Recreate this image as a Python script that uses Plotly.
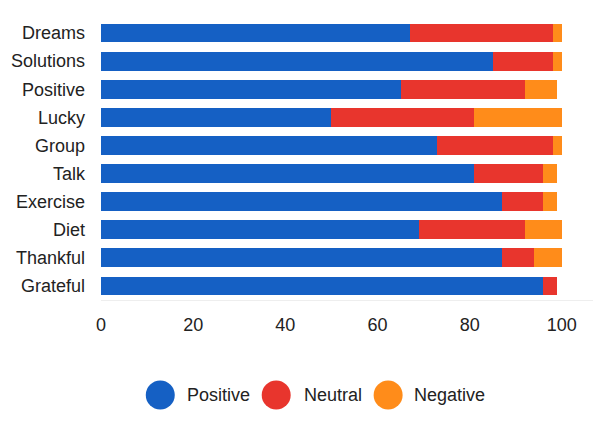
import plotly.graph_objects as go

categories = ["Dreams", "Solutions", "Positive", "Lucky", "Group",
              "Talk", "Exercise", "Diet", "Thankful", "Grateful"]
positive = [67, 85, 65, 50, 73, 81, 87, 69, 87, 96]
neutral = [31, 13, 27, 31, 25, 15, 9, 23, 7, 3]
negative = [2, 2, 7, 19, 2, 3, 3, 8, 6, 0]
series_names = ["Positive", "Neutral", "Negative"]
series_values = [positive, neutral, negative]
colors = ["#1560C4", "#E8352D", "#FF8C1A"]
x_ticks = [0, 20, 40, 60, 80, 100]

# page has an 8px body margin; figure is sized to fill the rest of the window
W, H = 593, 419
L, R, T, B = 92.7, 0, 11, 127
FONT = "Liberation Sans, Arial, sans-serif"
TXT = "#222222"


def px(xpage):
    return (xpage - 8 - L) / (W - L - R)


def py(ypage):
    return (H - B - (ypage - 8)) / (H - T - B)


fig = go.Figure()
for name, vals, col in zip(series_names, series_values, colors):
    fig.add_trace(go.Bar(
        y=categories, x=vals, name=name, orientation="h",
        marker=dict(color=col, line=dict(width=0)),
        showlegend=False,
    ))

# custom legend with large circles
legend_circle_x = [160, 276, 388]
legend_text_x = [187, 304, 414]
legend_y = 395
r = 14.5
for name, col, cx, tx in zip(series_names, colors, legend_circle_x, legend_text_x):
    fig.add_shape(type="circle", xref="paper", yref="paper",
                  xsizemode="pixel", ysizemode="pixel",
                  xanchor=px(cx), yanchor=py(legend_y),
                  x0=-r, x1=r, y0=-r, y1=r,
                  fillcolor=col, line=dict(width=0))
    fig.add_annotation(xref="paper", yref="paper",
                       x=px(tx - 2), y=py(legend_y),
                       text=name, showarrow=False, xanchor="left", yanchor="middle",
                       font=dict(family=FONT, size=18, color=TXT))

fig.update_layout(
    width=W, height=H,
    barmode="stack", bargap=0.33,
    margin=dict(l=L, r=R, t=T, b=B, pad=0),
    paper_bgcolor="white", plot_bgcolor="white",
    font=dict(family=FONT, size=18, color=TXT),
    xaxis=dict(range=[0, 108.5], tickvals=x_ticks, showgrid=False,
               zeroline=False, showline=True, linecolor="#eeeeee", linewidth=1,
               ticks="", ticklabelstandoff=8,
               tickfont=dict(family=FONT, size=18, color=TXT)),
    yaxis=dict(categoryorder="array", categoryarray=categories,
               autorange="reversed", showgrid=False, zeroline=False,
               ticks="", ticklabelstandoff=15,
               tickfont=dict(family=FONT, size=18, color=TXT)),
)

fig.write_html("out.html")
